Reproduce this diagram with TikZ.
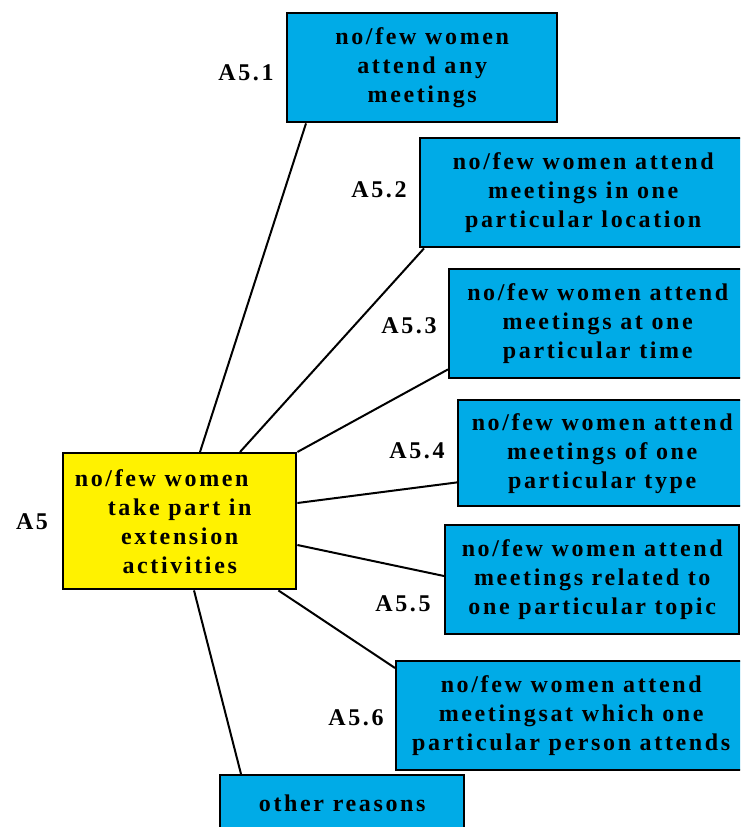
\documentclass[tikz,border=0pt]{standalone}
\usepackage{fontspec}
\setmainfont{Liberation Serif}[LetterSpace=11]
\definecolor{boxblue}{RGB}{0,171,231}
\definecolor{boxyellow}{RGB}{255,242,0}
\begin{document}
\begin{tikzpicture}[x=1pt,y=-1pt,
  every node/.style={font=\bfseries\fontsize{24}{29}\selectfont},
  bluebox/.style={draw=black, line width=2.4pt, fill=boxblue, rectangle,
    anchor=north west, align=center, inner sep=0pt},
  mainbox/.style={draw=black, line width=2.4pt, fill=boxyellow, rectangle,
    anchor=north west, align=center, inner sep=0pt},
  tag/.style={inner sep=0pt},
  link/.style={line width=2pt, black}]
\useasboundingbox (0,0) rectangle (740,827);
\clip (0,0) rectangle (740,827);

% central cause
\node[mainbox, minimum width=233pt, minimum height=136pt] (main) at (62,452)
  {no/few women\hspace*{36pt}\\take part in\\extension\\activities};
\node[tag] (lmain) at (32,522) {A5};

% sub-causes
\node[bluebox, minimum width=270pt, minimum height=109pt] (a1) at (286,12)
  {no/few women\\attend any\\meetings};
\node[bluebox, minimum width=326pt, minimum height=109pt] (a2) at (419,137)
  {no/few women attend\\meetings in one\\particular location};
\node[bluebox, minimum width=297pt, minimum height=109pt] (a3) at (448,268)
  {no/few women attend\\meetings at one\\particular time};
\node[bluebox, minimum width=288pt, minimum height=106pt] (a4) at (457,399)
  {no/few women attend\\meetings of one\\particular type};
\node[bluebox, minimum width=294pt, minimum height=109pt] (a5) at (444,524)
  {no/few women attend\\meetings related to\\one particular topic};
\node[bluebox, minimum width=350pt, minimum height=109pt] (a6) at (395,660)
  {no/few women attend\\meetingsat which one\\particular person attends};
\node[bluebox, minimum width=244pt, minimum height=60pt] (other) at (219,774)
  {\raisebox{4pt}{other reasons}};

% labels
\node[tag] (l1) at (246,73) {A5.1};
\node[tag] (l2) at (379,190) {A5.2};
\node[tag] (l3) at (409,326) {A5.3};
\node[tag] (l4) at (417,451) {A5.4};
\node[tag] (l5) at (403,604) {A5.5};
\node[tag] (l6) at (356,718) {A5.6};

% connectors
\draw[link] ([xshift=138pt]main.north west) -- ([xshift=20pt]a1.south west);
\draw[link] ([xshift=178pt]main.north west) -- ([xshift=5pt]a2.south west);
\draw[link] (main.north east) -- ([yshift=10pt]a3.south west);
\draw[link] ([yshift=-51pt]main.north east) -- ([yshift=25pt]a4.south west);
\draw[link] ([yshift=-93pt]main.north east) -- ([yshift=-52pt]a5.north west);
\draw[link] ([xshift=-19pt]main.south east) -- ([yshift=-8pt]a6.north west);
\draw[link] ([xshift=132pt]main.south west) -- ([xshift=22pt]other.north west);
\end{tikzpicture}
\end{document}
